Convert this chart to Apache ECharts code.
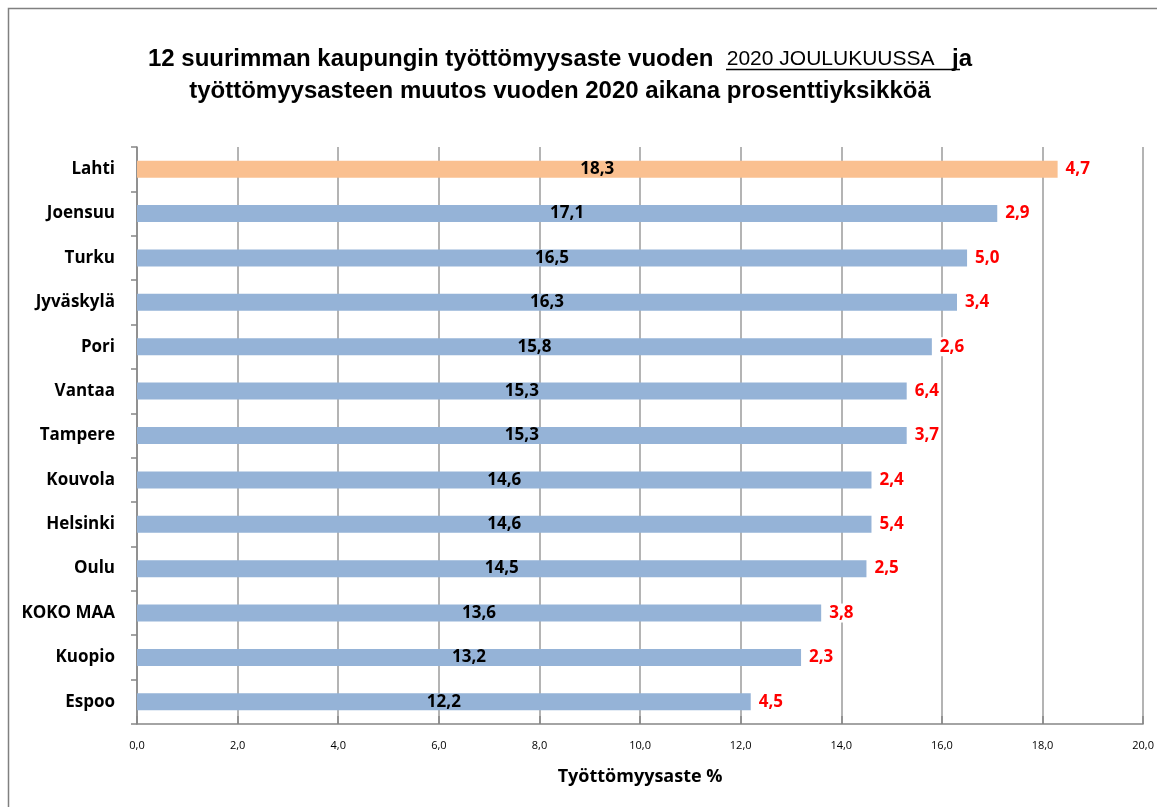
<!DOCTYPE html>
<html><head><meta charset="utf-8">
<script src="https://cdn.jsdelivr.net/npm/echarts@6/dist/echarts.min.js"></script>
<style>html,body{margin:0;padding:0;background:#fff}#c{width:1157px;height:807px}</style>
</head><body><div id="c"></div>
<script>
const cities = ['Lahti','Joensuu','Turku','Jyväskylä','Pori','Vantaa','Tampere','Kouvola','Helsinki','Oulu','KOKO MAA','Kuopio','Espoo'];
const rates = [18.3,17.1,16.5,16.3,15.8,15.3,15.3,14.6,14.6,14.5,13.6,13.2,12.2];
const changes = [4.7,2.9,5.0,3.4,2.6,6.4,3.7,2.4,5.4,2.5,3.8,2.3,4.5];
const highlightCity = 'Lahti';
const titleLine1a = '12 suurimman kaupungin työttömyysaste vuoden  ';
const titleLine1b = '2020 JOULUKUUSSA   ';
const titleLine1c = 'ja';
const titleLine2 = 'työttömyysasteen muutos vuoden 2020 aikana prosenttiyksikköä';
const xName = 'Työttömyysaste %';

const fmt = v => v.toFixed(1).replace('.', ',');
const chart = echarts.init(document.getElementById('c'));
chart.setOption({
  backgroundColor: '#fff',
  animation: false,
  title: {
    left: 555, top: 38, textAlign: 'center',
    text: '{a|' + titleLine1a + '}{b|' + titleLine1b + '}{a|' + titleLine1c + '}\n{a|' + titleLine2 + '}',
    textStyle: {
      rich: {
        a: {fontFamily: 'Liberation Sans, Arial', fontWeight: 'bold', fontSize: 24, color: '#000', lineHeight: 32},
        b: {fontFamily: 'Liberation Sans', fontWeight: 'normal', fontSize: 21, color: '#000', lineHeight: 32}
      }
    }
  },
  graphic: [
    {type: 'rect', shape: {x: 8.5, y: 8.5, width: 1170, height: 820}, style: {fill: 'none', stroke: '#808080', lineWidth: 1.5}, silent: true},
    {type: 'line', shape: {x1: 726, y1: 69.5, x2: 960, y2: 69.5}, style: {stroke: '#000', lineWidth: 1.5}, silent: true}
  ],
  grid: {left: 137, right: 13, top: 147, bottom: 83, containLabel: false},
  xAxis: {
    type: 'value', min: 0, max: 20, interval: 2,
    axisLine: {show: true, lineStyle: {color: '#868686', width: 1.5}},
    axisTick: {show: true, inside: true, length: 8, lineStyle: {color: '#868686', width: 1.5}},
    splitLine: {show: true, lineStyle: {color: '#b4b4b4', width: 2}},
    axisLabel: {formatter: v => fmt(v), fontFamily: 'Open Sans, Liberation Sans', fontSize: 11, color: '#000', margin: 16},
    name: xName, nameLocation: 'middle', nameGap: 44,
    nameTextStyle: {fontFamily: 'Open Sans, Liberation Sans', fontWeight: 'bold', fontSize: 18, color: '#000'}
  },
  yAxis: {
    type: 'category', data: cities, inverse: true,
    axisLine: {show: true, lineStyle: {color: '#868686', width: 1.5}},
    axisTick: {show: true, length: 6, lineStyle: {color: '#868686', width: 1.5}},
    splitLine: {show: false},
    axisLabel: {fontFamily: 'Open Sans, Liberation Sans', fontWeight: 'bold', fontSize: 17, color: '#000', margin: 22}
  },
  series: [
    {
      type: 'bar', barWidth: 17, z: 3,
      data: rates.map((v, i) => ({value: v, itemStyle: {color: cities[i] === highlightCity ? '#FAC090' : '#95B3D7'}})),
      label: {show: true, position: 'inside', formatter: p => fmt(p.value), fontFamily: 'Open Sans, Liberation Sans', fontWeight: 'bold', fontSize: 17, color: '#000'}
    },
    {
      type: 'bar', barWidth: 17, barGap: '-100%', z: 4,
      data: rates,
      itemStyle: {color: 'rgba(0,0,0,0)'},
      label: {show: true, position: 'right', distance: 6, formatter: p => fmt(changes[p.dataIndex]), fontFamily: 'Open Sans, Liberation Sans', fontWeight: 'bold', fontSize: 17, color: '#FF0000', backgroundColor: '#fff', padding: [1, 2]}
    }
  ]
});
</script></body></html>
